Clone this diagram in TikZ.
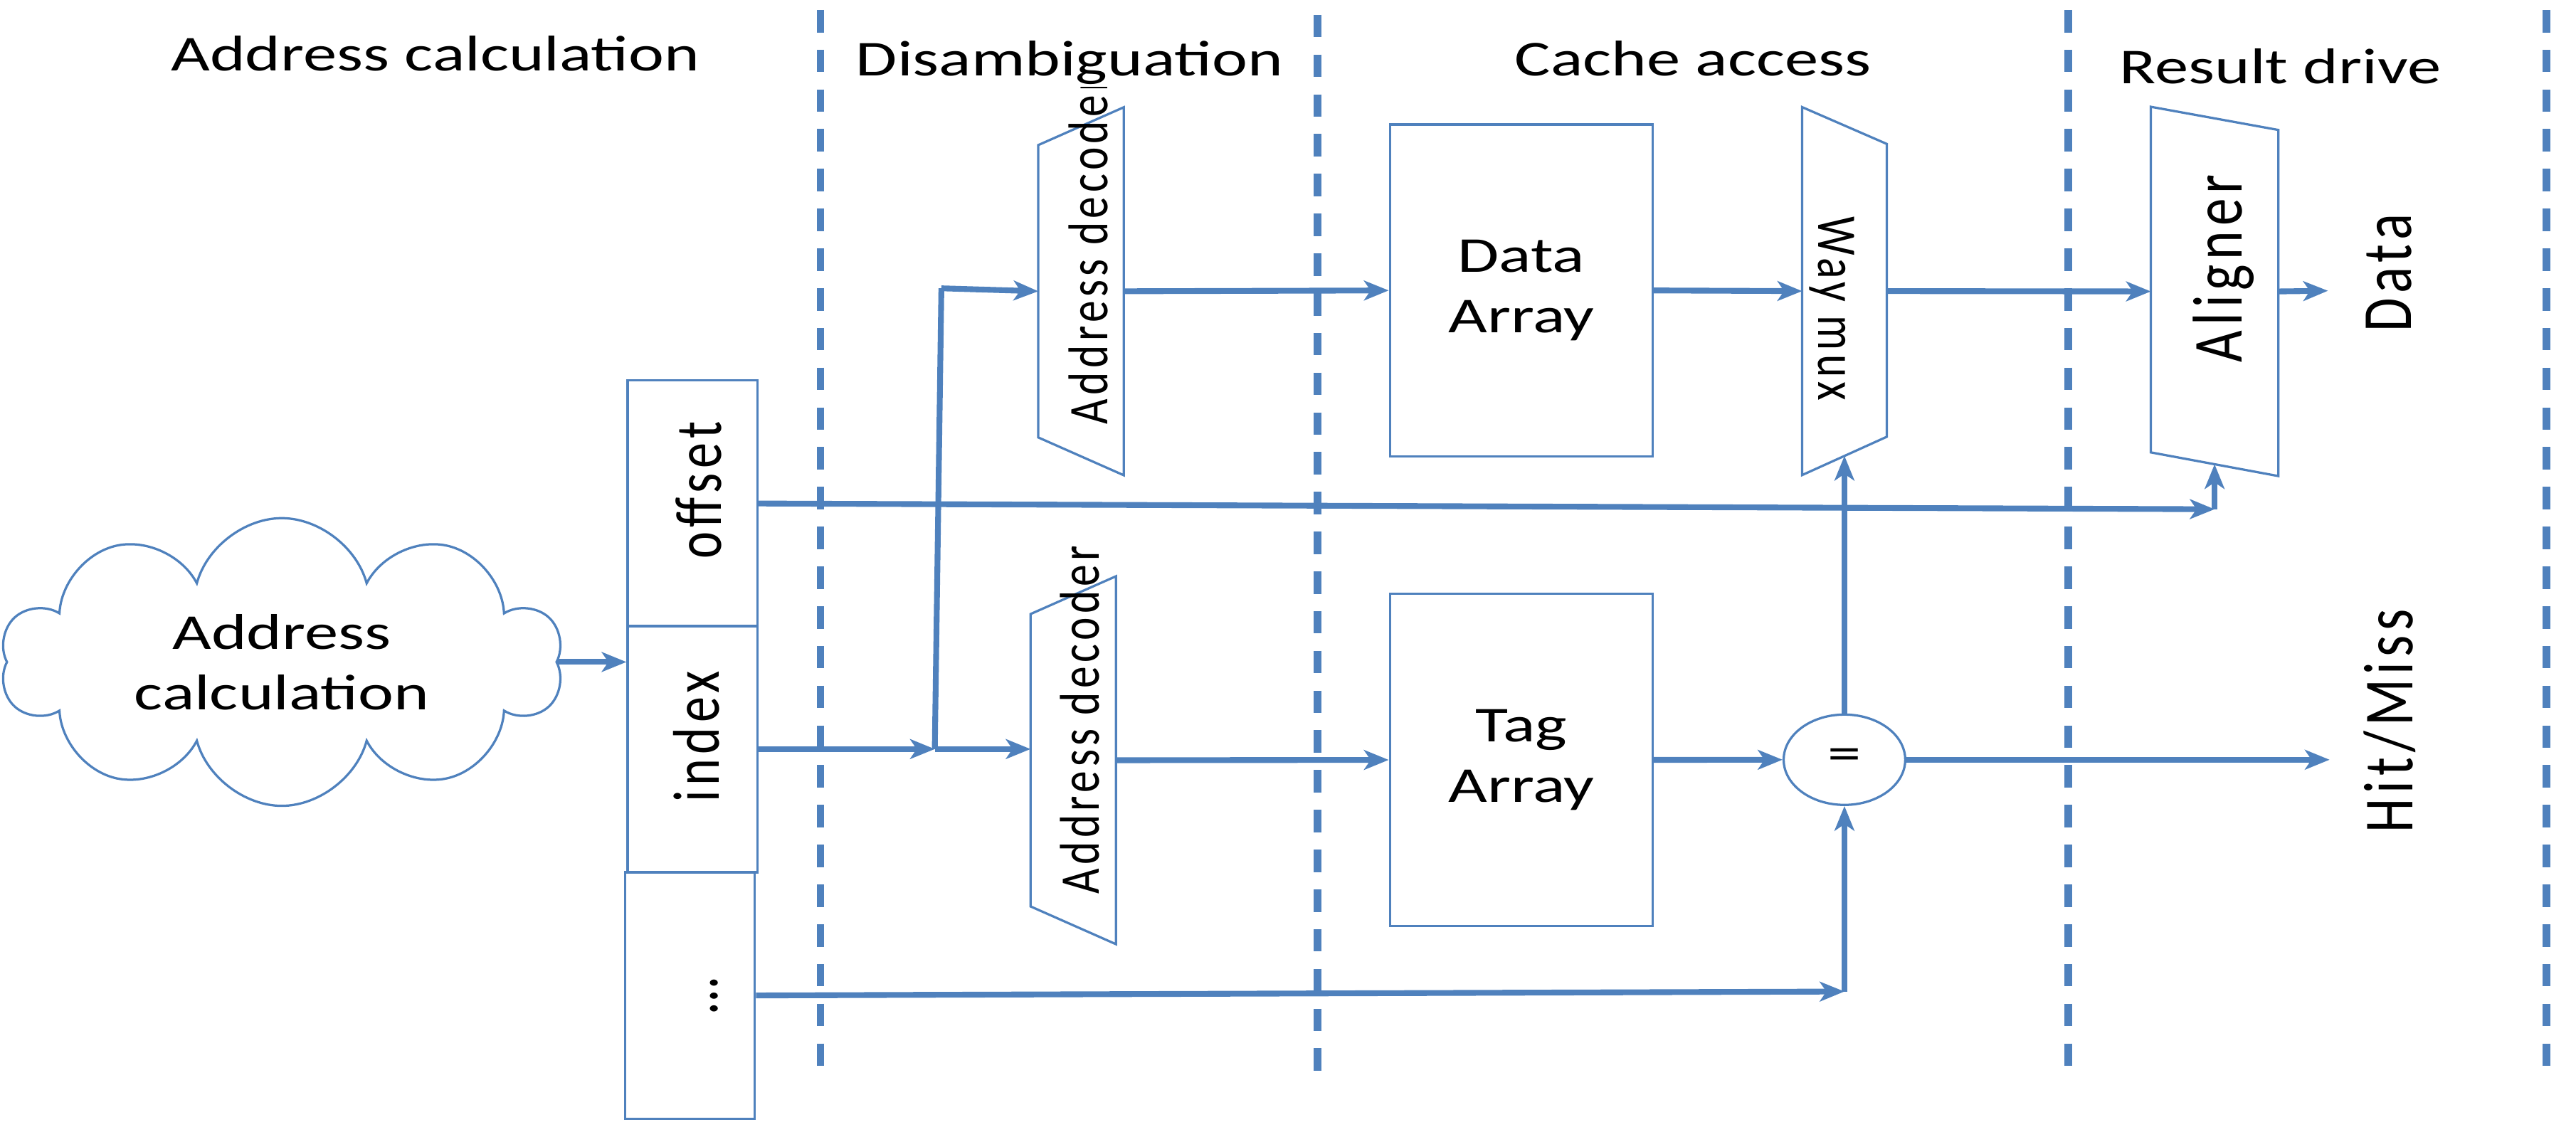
\documentclass[tikz,border=0pt]{standalone}
\usepackage{fontspec}
\setmainfont{Carlito}
\newfontfamily\wideface[FakeStretch=1.34]{Carlito}
\newfontfamily\tallface[FakeStretch=0.78,LetterSpace=7]{Carlito}
\usetikzlibrary{arrows.meta,calc,shapes.geometric,shapes.symbols}

\definecolor{linkblue}{RGB}{79,129,189}

\tikzset{
  stage/.style={draw=linkblue, line width=1.3pt, dash pattern=on 1.37mm off 1.05mm},
  part/.style={draw=linkblue, line width=0.4pt},
  frame/.style={inner sep=0pt, outer sep=0pt},
  wire/.style={draw=linkblue, line width=1pt},
  link/.style={wire, -{Stealth[length=1.5mm, width=1.2mm, inset=0.4mm]}},
  heading/.style={font=\wideface\fontsize{8.7}{10.5}\selectfont, fill=white, inner sep=0.5pt, anchor=base},
  boxlabel/.style={font=\wideface\fontsize{8.7}{10.5}\selectfont, align=center},
  field/.style={part, minimum width=7.9mm, minimum height=15mm, inner sep=0pt},
  uplabel/.style={rotate=90, anchor=base west, inner sep=0pt},
  decfont/.style={font=\tallface\fontsize{9.7}{11}\selectfont},
  fieldfont/.style={font=\tallface\fontsize{11.4}{13}\selectfont},
  outfont/.style={font=\tallface\fontsize{12.2}{14}\selectfont}
}

\begin{document}
\begin{tikzpicture}[x=1mm, y=-1mm]
\useasboundingbox (0,0) rectangle (156.8,68.6);

% pipeline stages
\draw[stage] (49.95,0.6) -- (49.95,65.4);
\draw[stage] (80.2,0.9) -- (80.2,65.7);
\draw[stage] (125.9,0.6) -- (125.9,65.5);
\draw[stage] (155.0,0.6) -- (155.0,65.5);

% address and its fields
\node[cloud, cloud puffs=10, cloud puff arc=150, aspect=2.1, part, minimum width=34.2mm, minimum height=15.6mm, inner sep=0pt, boxlabel] (calc) at (17.15,40.3) {Address\\calculation};
\node[field] (fOffset) at (42.15,30.65) {};
\node[field] (fIndex) at (42.15,45.6) {};
\node[field] (fRest) at (42.0,60.6) {};
\node[fieldfont, uplabel] (lblOffset) at (43.9,34.09) {offset};
\node[fieldfont, uplabel] (lblIndex) at (43.76,48.9) {index};
\node[fieldfont, rotate=90, anchor=base, inner sep=0pt] (lblRest) at (43.67,60.6) {…};

% decoders
\node[frame, minimum width=5.2mm, minimum height=22.4mm] (decA) at (65.8,17.73) {};
\draw[part] ($(decA.north west)+(0,2.3)$) -- (decA.north east) -- (decA.south east) -- ($(decA.south west)+(0,-2.3)$) -- cycle;
\node[frame, minimum width=5.2mm, minimum height=22.4mm] (decB) at (65.33,46.28) {};
\draw[part] ($(decB.north west)+(0,2.3)$) -- (decB.north east) -- (decB.south east) -- ($(decB.south west)+(0,-2.3)$) -- cycle;
\node[decfont, uplabel] (lblDecA) at (67.42,25.9) {Address decoder};
\node[decfont, uplabel] (lblDecB) at (66.88,54.5) {Address decoder};

% arrays
\node[part, minimum width=16mm, minimum height=20.2mm, inner sep=0pt, boxlabel] (dataArr) at (92.6,17.68) {Data\\Array};
\node[part, minimum width=16mm, minimum height=20.2mm, inner sep=0pt, boxlabel] (tagArr) at (92.6,46.26) {Tag\\Array};

% way mux and compare
\node[frame, minimum width=5.15mm, minimum height=22.4mm] (mux) at (112.27,17.72) {};
\draw[part] (mux.north west) -- ($(mux.north east)+(0,2.24)$) -- ($(mux.south east)+(0,-2.33)$) -- (mux.south west) -- cycle;
\node[decfont, rotate=-90, anchor=base west, inner sep=0pt] (lblMux) at (110.7,13.13) {Way mux};
\node[part, ellipse, minimum width=7.4mm, minimum height=5.5mm, inner sep=0pt, boxlabel] (cmp) at (112.27,46.25) {=};

% aligner
\node[frame, minimum width=7.76mm, minimum height=22.48mm] (algn) at (134.8,17.74) {};
\draw[part] (algn.north west) -- ($(algn.north east)+(0,1.41)$) -- (algn.south east) -- ($(algn.south west)+(0,-1.44)$) -- cycle;
\node[outfont, uplabel] (lblAlgn) at (136.48,22.12) {Aligner};

% outputs
\node[outfont, uplabel] (lblData) at (146.75,20.28) {Data};
\node[outfont, uplabel] (lblHit) at (146.84,50.75) {Hit/Miss};

% connections
\coordinate (split) at (56.9,45.6);
\coordinate (splitTop) at (57.3,17.55);
\coordinate (alnTurn) at (134.8,31.0);
\coordinate (cmpTurn) at (112.27,60.36);
\coordinate (dataOut) at (141.7,17.7);
\coordinate (hitOut) at (141.8,46.25);

\draw[link] (calc.east) -- (calc.east -| fIndex.west);
\draw[link] (fIndex.east) -- (split);
\draw[wire] (split) -- (splitTop);
\draw[link] (splitTop) -- (decA.west);
\draw[link] (split) -- (split -| decB.west);
\draw[link] (decA.east) -- (dataArr.west);
\draw[link] (dataArr.east) -- (mux.west);
\draw[link] (mux.east) -- (algn.west);
\draw[link] (algn.east) -- (dataOut);
\draw[link] (decB.east) -- (tagArr.west);
\draw[link] (tagArr.east) -- (cmp.west);
\draw[link] (cmp.east) -- (hitOut);
\draw[link] (fOffset.east) -- (alnTurn);
\draw[link] (alnTurn) -- ($(algn.south)+(0,-0.72)$);
\draw[link] (fRest.east) -- (cmpTurn);
\draw[link] (cmpTurn) -- (cmp.south);
\draw[link] (cmp.north) -- ($(mux.south)+(0,-1.17)$);

% stage names
\node[heading] (ttlCalc) at (26.5,4.33) {Address calculation};
\node[heading] (ttlDisamb) at (65.1,4.59) {Disambiguation};
\node[heading] (ttlCache) at (103.05,4.59) {Cache access};
\node[heading] (ttlResult) at (138.8,5.08) {Result drive};
\end{tikzpicture}
\end{document}
